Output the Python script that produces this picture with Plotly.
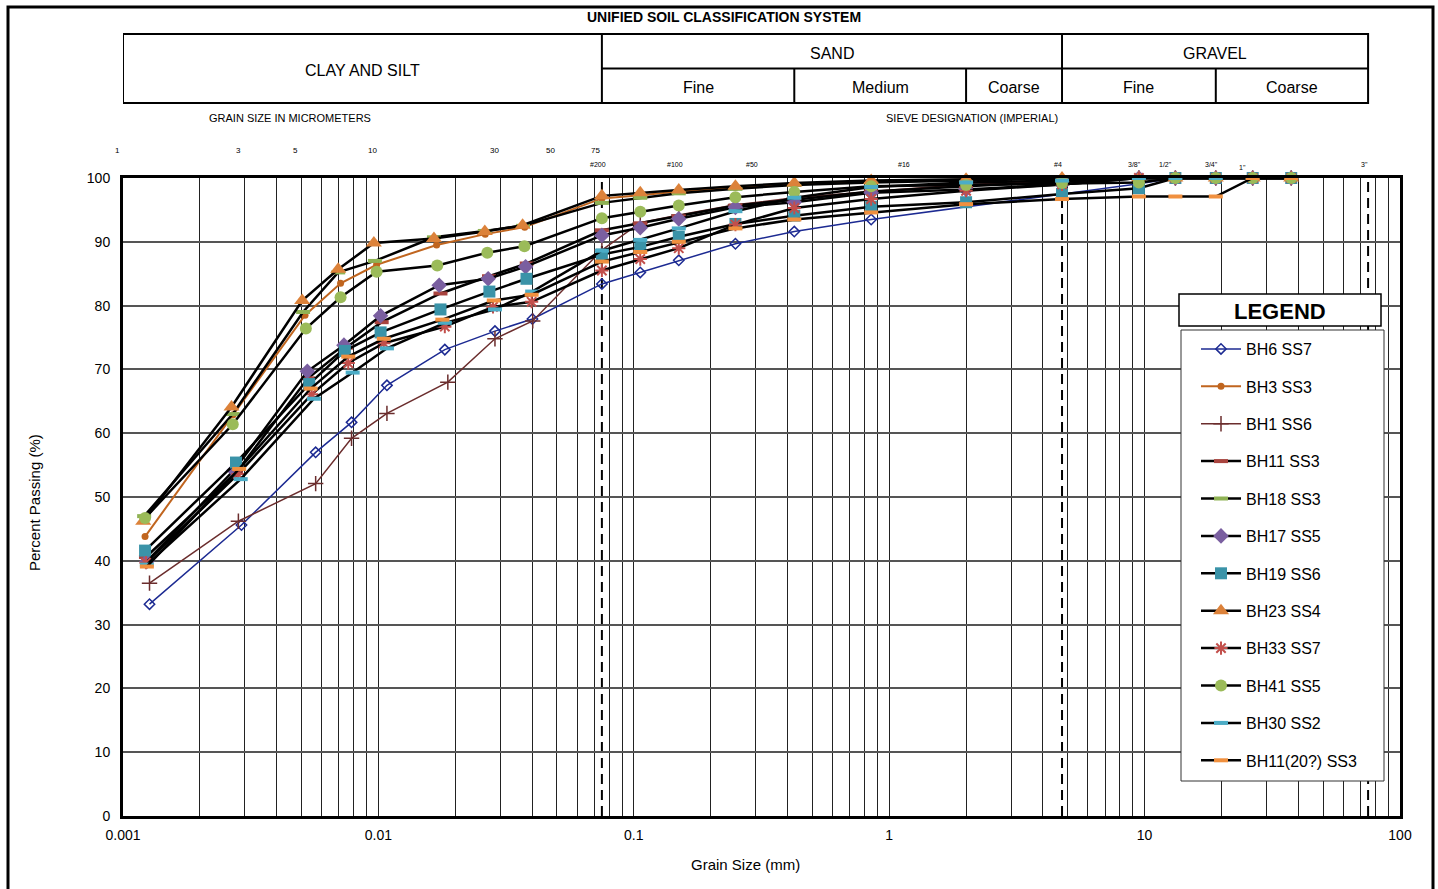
import math
import plotly.graph_objects as go

# Sieve openings (mm) shared by every sample
SIEVE_MM = [0.075, 0.106, 0.15, 0.25, 0.425, 0.85, 2.0, 4.75, 9.5, 13.2, 19.0, 26.5, 37.5]

# Hydrometer diameters (mm) and percent passing, then sieve percent passing (None = not tested)
BH6_SS7_HYD_D = [0.00127, 0.00291, 0.00568, 0.00785, 0.0108, 0.0182, 0.0286, 0.0401]
BH6_SS7_HYD_P = [33.2, 45.6, 57.0, 61.7, 67.5, 73.1, 76.0, 77.9]
BH6_SS7_SIEVE_P = [83.4, 85.2, 87.1, 89.7, 91.6, 93.5, None, None, 99.1, 100, 100, 100, 100]

BH3_SS3_HYD_D = [0.00122, 0.00270, 0.00516, 0.00711, 0.00984, 0.0169, 0.0262, 0.0374]
BH3_SS3_HYD_P = [43.8, 62.9, 78.5, 83.5, 86.4, 89.5, 91.2, 92.3]
BH3_SS3_SIEVE_P = [96.8, 97.3, 97.9, 98.5, 99.1, 99.5, 99.8, 100, 100, 100, 100, 100, 100]

BH1_SS6_HYD_D = [0.00127, 0.00283, 0.00568, 0.00785, 0.0108, 0.0187, 0.0286, 0.0402]
BH1_SS6_HYD_P = [36.5, 46.2, 52.1, 59.2, 63.1, 68.0, 74.8, 77.6]
BH1_SS6_SIEVE_P = [88.7, 93.0, 94.2, 95.8, 96.9, 97.9, 99.0, 99.6, 100, 100, 100, 100, 100]

BH11_SS3_HYD_D = [0.00123, 0.00277, 0.00530, 0.00746, 0.0103, 0.0175, 0.0271, 0.0381]
BH11_SS3_HYD_P = [40.6, 53.8, 68.6, 73.4, 77.4, 81.9, 84.6, 86.6]
BH11_SS3_SIEVE_P = [91.8, 92.9, 94.0, 95.7, 96.6, 97.9, 98.7, 99.4, 100, 100, 100, 100, 100]

BH18_SS3_HYD_D = [0.00121, 0.00269, 0.00507, 0.00696, 0.00969, 0.0165, 0.0261, 0.0368]
BH18_SS3_HYD_P = [47.0, 63.0, 79.0, 85.2, 87.0, 90.7, 91.7, 92.5]
BH18_SS3_SIEVE_P = [96.1, 96.9, 97.6, 98.3, 98.9, 99.3, 99.6, 99.9, 100, 100, 100, 100, 100]

BH17_SS5_HYD_D = [0.00124, 0.00272, 0.00527, 0.00733, 0.0102, 0.0173, 0.0269, 0.0377]
BH17_SS5_HYD_P = [39.9, 54.2, 69.7, 73.8, 78.4, 83.2, 84.2, 86.1]
BH17_SS5_SIEVE_P = [91.0, 92.2, 93.6, 95.4, 96.2, 97.7, 98.2, 99.0, 100, 100, 100, 100, 100]

BH19_SS6_HYD_D = [0.00122, 0.00277, 0.00536, 0.00739, 0.0102, 0.0175, 0.0272, 0.0380]
BH19_SS6_HYD_P = [41.6, 55.4, 67.7, 72.9, 75.8, 79.4, 82.2, 84.2]
BH19_SS6_SIEVE_P = [88.0, 89.2, 90.8, 92.8, 94.1, 95.5, 96.2, 97.5, 98.4, 100, 100, 100, 100]

BH23_SS4_HYD_D = [0.00120, 0.00266, 0.00503, 0.00696, 0.00960, 0.0165, 0.0261, 0.0367]
BH23_SS4_HYD_P = [46.2, 64.1, 80.8, 85.7, 89.8, 90.5, 91.6, 92.6]
BH23_SS4_SIEVE_P = [97.2, 97.7, 98.1, 98.7, 99.2, 99.6, 99.8, 100, 100, 100, 100, 100, 100]

BH33_SS7_HYD_D = [0.00123, 0.00282, 0.00548, 0.00762, 0.0105, 0.0182, 0.0281, 0.0398]
BH33_SS7_HYD_P = [39.7, 53.6, 66.1, 71.0, 74.1, 76.7, 79.8, 80.6]
BH33_SS7_SIEVE_P = [85.5, 87.3, 89.0, 92.7, 95.3, 96.7, 98.0, 99.0, 100, 100, 100, 100, 100]

BH41_SS5_HYD_D = [0.00122, 0.00269, 0.00520, 0.00711, 0.00984, 0.0170, 0.0267, 0.0373]
BH41_SS5_HYD_P = [46.7, 61.4, 76.4, 81.3, 85.3, 86.3, 88.3, 89.3]
BH41_SS5_SIEVE_P = [93.7, 94.7, 95.7, 97.0, 97.8, 98.7, 98.9, 99.2, 99.3, 100, 100, 100, 100]

BH30_SS2_HYD_D = [0.00124, 0.00289, 0.00559, 0.00793, 0.0108, 0.0182, 0.0286, 0.0400]
BH30_SS2_HYD_P = [39.4, 52.8, 65.4, 69.5, 73.3, 77.3, 79.4, 82.2]
BH30_SS2_SIEVE_P = [88.6, 90.3, 92.1, 94.8, 96.9, 98.6, 99.3, 99.6, 100, 100, 100, 100, 100]

BH11_20_SS3_HYD_D = [0.00124, 0.00285, 0.00543, 0.00762, 0.0105, 0.0178, 0.0283, 0.0398]
BH11_20_SS3_HYD_P = [39.1, 54.4, 67.0, 72.0, 74.8, 77.8, 80.8, 81.7]
BH11_20_SS3_SIEVE_P = [86.9, 88.4, 90.0, 92.1, 93.5, 94.6, 95.9, 96.7, 97.1, 97.1, 97.1, 100, 100]

# Classification boundaries (mm) for the header table
BOUNDS_MM = [0.001, 0.075, 0.425, 2.0, 4.75, 19.0, 75.0]
MAJOR_GROUPS = [("CLAY AND SILT", 0.001, 0.075), ("SAND", 0.075, 4.75), ("GRAVEL", 4.75, 75.0)]
SUB_GROUPS = [("Fine", 0.075, 0.425), ("Medium", 0.425, 2.0), ("Coarse", 2.0, 4.75),
              ("Fine", 4.75, 19.0), ("Coarse", 19.0, 75.0)]

MICRON_LABELS = [1, 3, 5, 10, 30, 50, 75]
SIEVE_LABELS = [("#200", 0.075), ("#100", 0.15), ("#50", 0.3), ("#16", 1.18), ("#4", 4.75),
                ("3/8\"", 9.5), ("1/2\"", 12.5), ("3/4\"", 19.0), ("1\"", 25.0), ("3\"", 75.0)]
DASHED_MM = [0.075, 4.75, 75.0]

X_TICKS = [0.001, 0.01, 0.1, 1, 10, 100]
X_TICKTEXT = ["0.001", "0.01", "0.1", "1", "10", "100"]

FONT = "Liberation Sans, Arial, sans-serif"

W, H = 1438, 889
ML, MR, MT, MB = 123, 38, 178, 73
PW, PH = W - ML - MR, H - MT - MB


def pxx(px):
    return (px - ML) / PW


def pxy(py):
    return (H - MB - py) / PH


def series(hd, hp, sp):
    d = list(hd)
    p = list(hp)
    for s, v in zip(SIEVE_MM, sp):
        if v is not None:
            d.append(s)
            p.append(v)
    return d, p


def label(text, x, y, size, xref="paper", **kw):
    a = dict(text=text, xref=xref, yref="paper", x=x, y=y, showarrow=False,
             xanchor="center", yanchor="middle",
             font=dict(size=size, color="black", family=FONT))
    a.update(kw)
    return a


SERIES = [
    ("BH6 SS7", BH6_SS7_HYD_D, BH6_SS7_HYD_P, BH6_SS7_SIEVE_P, "#1c2a92", 1.5,
     dict(symbol="diamond-open", size=8, color="#1c2a92", line=dict(width=1.5, color="#1c2a92"))),
    ("BH3 SS3", BH3_SS3_HYD_D, BH3_SS3_HYD_P, BH3_SS3_SIEVE_P, "#c0651f", 2,
     dict(symbol="circle", size=7, color="#c0651f")),
    ("BH1 SS6", BH1_SS6_HYD_D, BH1_SS6_HYD_P, BH1_SS6_SIEVE_P, "#6b2d2d", 1.5,
     dict(symbol="cross-thin-open", size=11, color="#6b2d2d", line=dict(width=1.5, color="#6b2d2d"))),
    ("BH11 SS3", BH11_SS3_HYD_D, BH11_SS3_HYD_P, BH11_SS3_SIEVE_P, "black", 2.5,
     dict(symbol="line-ew-open", size=10, color="#a9443f", line=dict(width=4, color="#a9443f"))),
    ("BH18 SS3", BH18_SS3_HYD_D, BH18_SS3_HYD_P, BH18_SS3_SIEVE_P, "black", 2.5,
     dict(symbol="line-ew-open", size=10, color="#8fb254", line=dict(width=4, color="#8fb254"))),
    ("BH17 SS5", BH17_SS5_HYD_D, BH17_SS5_HYD_P, BH17_SS5_SIEVE_P, "black", 2.5,
     dict(symbol="diamond", size=12, color="#7a5fa0")),
    ("BH19 SS6", BH19_SS6_HYD_D, BH19_SS6_HYD_P, BH19_SS6_SIEVE_P, "black", 2.5,
     dict(symbol="square", size=12, color="#3a93a8")),
    ("BH23 SS4", BH23_SS4_HYD_D, BH23_SS4_HYD_P, BH23_SS4_SIEVE_P, "black", 2.5,
     dict(symbol="triangle-up", size=14, color="#dc823a")),
    ("BH33 SS7", BH33_SS7_HYD_D, BH33_SS7_HYD_P, BH33_SS7_SIEVE_P, "black", 2.5,
     dict(symbol="asterisk-open", size=11, color="#c24f4b", line=dict(width=2, color="#c24f4b"))),
    ("BH41 SS5", BH41_SS5_HYD_D, BH41_SS5_HYD_P, BH41_SS5_SIEVE_P, "black", 2.5,
     dict(symbol="circle", size=12, color="#9bbb59")),
    ("BH30 SS2", BH30_SS2_HYD_D, BH30_SS2_HYD_P, BH30_SS2_SIEVE_P, "black", 2.5,
     dict(symbol="line-ew-open", size=10, color="#4bacc6", line=dict(width=4, color="#4bacc6"))),
    ("BH11(20?) SS3", BH11_20_SS3_HYD_D, BH11_20_SS3_HYD_P, BH11_20_SS3_SIEVE_P, "black", 2.5,
     dict(symbol="line-ew-open", size=10, color="#f0903f", line=dict(width=4, color="#f0903f"))),
]

fig = go.Figure()
for i, (name, hd, hp, sp, lc, lw, mk) in enumerate(SERIES):
    d, p = series(hd, hp, sp)
    fig.add_trace(go.Scatter(
        x=d, y=p, name=name, mode="lines+markers",
        line=dict(color=lc, width=lw), marker=mk,
        legendgroup=f"g{i}", cliponaxis=False,
    ))

shapes = []
annotations = []

# outer frame of the sheet
shapes.append(dict(type="rect", xref="paper", yref="paper", x0=pxx(8), x1=pxx(1433),
                   y0=pxy(900), y1=pxy(7), line=dict(color="black", width=3), layer="below"))

# header table (shape x positions are in data units on the log axis)
y_top, y_mid, y_bot = pxy(34), pxy(68.5), pxy(103)
hl = dict(color="black", width=2)
shapes.append(dict(type="rect", xref="x", yref="paper", x0=BOUNDS_MM[0], x1=BOUNDS_MM[-1],
                   y0=y_bot, y1=y_top, line=hl))
shapes.append(dict(type="line", xref="x", yref="paper", x0=BOUNDS_MM[1], x1=BOUNDS_MM[-1],
                   y0=y_mid, y1=y_mid, line=hl))
for b in (0.075, 4.75):
    shapes.append(dict(type="line", xref="x", yref="paper", x0=b, x1=b, y0=y_bot, y1=y_top, line=hl))
for b in (0.425, 2.0, 19.0):
    shapes.append(dict(type="line", xref="x", yref="paper", x0=b, x1=b, y0=y_bot, y1=y_mid, line=hl))

# annotation x positions on the log axis are given as log10 values
for text, a, b in MAJOR_GROUPS:
    yy = (y_top + y_bot) / 2 if a == 0.001 else (y_top + y_mid) / 2
    annotations.append(label(text, (math.log10(a) + math.log10(b)) / 2, yy, 16, xref="x", yshift=-2))
for text, a, b in SUB_GROUPS:
    annotations.append(label(text, (math.log10(a) + math.log10(b)) / 2, (y_mid + y_bot) / 2, 16,
                             xref="x", yshift=-2))

annotations.append(label("<b>UNIFIED SOIL CLASSIFICATION SYSTEM</b>", pxx(724), pxy(17), 14))
annotations.append(label("GRAIN SIZE IN MICROMETERS", pxx(290), pxy(118), 11))
annotations.append(label("SIEVE DESIGNATION (IMPERIAL)", pxx(972), pxy(118), 11))

for um in MICRON_LABELS:
    annotations.append(label(str(um), math.log10(um / 1000.0), pxy(151), 8, xref="x", xshift=-6))
for lab, mm in SIEVE_LABELS:
    yy = pxy(167) if lab == "1\"" else pxy(164)
    annotations.append(label(lab, math.log10(mm), yy, 7, xref="x", xshift=-4))

# dashed boundary lines at #200, #4 and 3"
for mm in DASHED_MM:
    shapes.append(dict(type="line", xref="x", yref="paper", x0=mm, x1=mm, y0=0, y1=1,
                       line=dict(color="black", width=2, dash="10px,6px"), layer="below"))

# legend boxes
shapes.append(dict(type="rect", xref="paper", yref="paper", x0=pxx(1179), x1=pxx(1381),
                   y0=pxy(326), y1=pxy(294), fillcolor="white", line=dict(color="black", width=1.5),
                   layer="above"))
shapes.append(dict(type="rect", xref="paper", yref="paper", x0=pxx(1181), x1=pxx(1384),
                   y0=pxy(781), y1=pxy(330), fillcolor="white", line=dict(color="#333", width=1),
                   layer="above"))
annotations.append(label("<b>LEGEND</b>", pxx(1280), pxy(311), 22))

# axis titles
annotations.append(label("Grain Size (mm)", pxx(745), pxy(865), 15))
annotations.append(label("Percent Passing (%)", pxx(35), pxy(503), 15, textangle=-90))

fig.update_layout(
    width=W, height=H,
    margin=dict(l=ML, r=MR, t=MT, b=MB),
    paper_bgcolor="white", plot_bgcolor="white",
    font=dict(family=FONT, color="black"),
    shapes=shapes, annotations=annotations,
    showlegend=True,
    legend=dict(x=pxx(1196), y=pxy(332), xanchor="left", yanchor="top",
                bgcolor="rgba(0,0,0,0)", borderwidth=0, tracegroupgap=13.6,
                font=dict(size=16, color="black", family=FONT), itemwidth=40),
)

fig.update_xaxes(
    type="log", range=[-3, 2], tickvals=X_TICKS, ticktext=X_TICKTEXT,
    tickfont=dict(size=14, color="black", family=FONT), ticks="", ticklabelstandoff=4,
    showgrid=True, gridcolor="#222", gridwidth=1,
    minor=dict(showgrid=True, gridcolor="#222", gridwidth=1, dtick="D1", ticks=""),
    showline=True, linecolor="black", linewidth=3, mirror=True, zeroline=False,
)
fig.update_yaxes(
    range=[0, 100], dtick=10, tickfont=dict(size=14, color="black", family=FONT), ticks="",
    ticklabelstandoff=7, showgrid=True, gridcolor="#555", gridwidth=1.5,
    showline=True, linecolor="black", linewidth=3, mirror=True, zeroline=False,
)

fig.write_html("out.html")
